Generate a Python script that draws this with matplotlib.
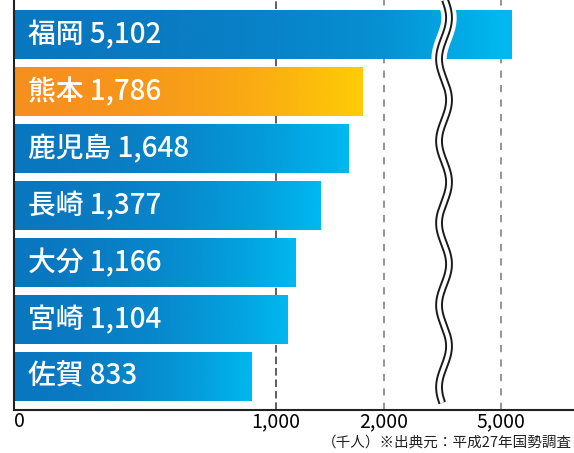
import numpy as np
import matplotlib
matplotlib.use('Agg')
import matplotlib.pyplot as plt
from matplotlib.colors import LinearSegmentedColormap

plt.rcParams['font.family'] = ['Noto Sans CJK JP', 'DejaVu Sans']

# 九州各県の人口（千人）
prefs = ['福岡', '熊本', '鹿児島', '長崎', '大分', '宮崎', '佐賀']
population = [5102, 1786, 1648, 1377, 1166, 1104, 833]
highlight = '熊本'
tick_values = [0, 1000, 2000, 5000]
tick_labels = ['0', '1,000', '2,000', '5,000']
note = '（千人）※出典元：平成27年国勢調査'

# 軸のスケール: 2000までは平方根、2000〜5000は省略（波線）
GAP_U = 14.14
TAIL = 0.01304
A = np.sqrt(2000)
B = A + GAP_U


def fwd(x):
    x = np.clip(np.asarray(x, float), 0, None)
    u1 = np.sqrt(np.minimum(x, 2000))
    u2 = np.clip(x - 2000, 0, 3000) * (GAP_U / 3000)
    u3 = np.clip(x - 5000, 0, None) * TAIL
    return u1 + u2 + u3


def inv(u):
    u = np.asarray(u, float)
    return np.where(u <= A, np.clip(u, 0, None) ** 2,
                    np.where(u <= B, 2000 + (u - A) * 3000 / GAP_U,
                             5000 + (u - B) / TAIL))


blue = LinearSegmentedColormap.from_list('b', ['#0a77c0', '#00b9f0'])
orange = LinearSegmentedColormap.from_list('o', ['#f6901e', '#ffcd05'])
grad = np.linspace(0, 1, 256).reshape(1, -1)

fig = plt.figure(figsize=(5.74, 4.53), dpi=100)
ax = fig.add_axes([14 / 574, 43 / 453, 560 / 574, 410 / 453])
ax.set_xscale('function', functions=(fwd, inv))

# 目盛り線
ax.axvline(1000, color='#333333', lw=1.1, ls=(0, (5, 2.5)), zorder=1)
for v in [2000, 5000]:
    ax.axvline(v, color='#8c8c8c', lw=1.3, ls=(0, (4, 4)), zorder=1)

h = 0.86
for i, (name, val) in enumerate(zip(prefs, population)):
    bar = ax.barh(i, val, height=h, color='none', edgecolor='none', zorder=2)[0]
    cmap = orange if name == highlight else blue
    im = ax.imshow(grad, cmap=cmap, extent=[0, val, i + h / 2, i - h / 2],
                   aspect='auto', interpolation='bicubic', zorder=2)
    im.set_clip_path(bar)
    ax.text(0.025, i, f'{name} {val:,}', color='white', fontsize=20,
            fontweight='medium', va='center', ha='left', zorder=4,
            transform=ax.get_yaxis_transform())

ax.set_xlim(0, 5676)
ax.set_ylim(6.588, -0.605)

# 波線（省略記号）
xc = 2000 + (51.97 - A) * 3000 / GAP_U
amp = 128
yy = np.linspace(-0.605, 6.465, 400)
xx = xc + amp * np.cos(2 * np.pi * (yy - 1.149) / 1.44)
ax.plot(xx, yy, color='white', lw=11, zorder=5, solid_capstyle='butt')
ax.plot(xx, yy, color='#1a1a1a', lw=5.6, zorder=6, solid_capstyle='butt')
ax.plot(xx, yy, color='white', lw=2.8, zorder=7, solid_capstyle='butt')

ax.set_xticks(tick_values)
ax.set_xticklabels(tick_labels, fontsize=14)
ax.get_xticklabels()[0].set_ha('left')
ax.set_yticks([])
ax.tick_params(axis='x', length=0, pad=1)
for s in ['top', 'right']:
    ax.spines[s].set_visible(False)
for s in ['left', 'bottom']:
    ax.spines[s].set_linewidth(1.5)
    ax.spines[s].set_color('#222222')
    ax.spines[s].set_zorder(8)

fig.text(572 / 574, 1 - 443 / 453, note, fontsize=10.5, va='center', ha='right',
         color='#222222')

fig.savefig('out.png', dpi=100)
